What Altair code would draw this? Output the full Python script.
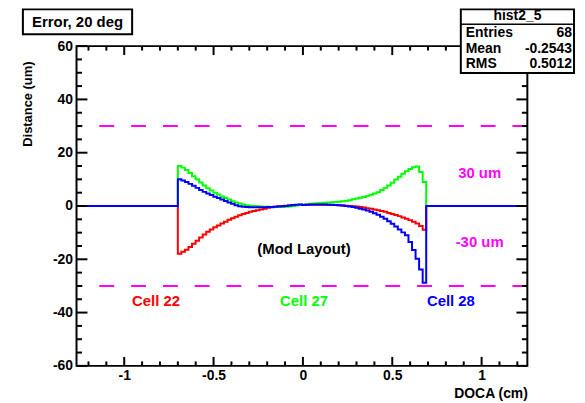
import altair as alt
import pandas as pd

# ---------------- data ----------------
x_min, x_max = -1.267, 1.256
y_min, y_max = -60, 60
hist_lo, hist_hi = -0.70, 0.69

red_vals = [-17.9, -17.2, -16.4, -15.4, -14.2, -13.0, -11.8, -10.7, -9.7, -8.8,
            -8.0, -7.3, -6.6, -5.9, -5.2, -4.6, -4.0, -3.5, -3.0, -2.6,
            -2.2, -1.9, -1.6, -1.3, -1.0, -0.7, -0.5, -0.3, -0.1, 0.0,
            0.1, 0.2, 0.3, 0.4, 0.5,
            0.4, 0.5, 0.5, 0.5, 0.5, 0.5, 0.5, 0.5, 0.4, 0.4,
            0.3, 0.2, 0.1, 0.0, -0.1, -0.2, -0.4, -0.6, -0.8, -1.0,
            -1.3, -1.6, -1.9, -2.2, -2.6, -3.0, -3.4, -3.8, -4.3, -4.8,
            -5.3, -5.9, -6.6, -7.5, -8.9]
green_vals = [15.0, 14.4, 13.5, 12.4, 11.2, 10.0, 8.8, 7.7, 6.7, 5.8,
              5.0, 4.3, 3.6, 3.0, 2.4, 1.8, 1.3, 0.9, 0.6, 0.3,
              0.1, 0.0, -0.1, -0.2, -0.3, -0.3, -0.4, -0.4, -0.4, -0.4,
              -0.3, -0.2, 0.0, 0.2, 0.4,
              0.5, 0.7, 0.8, 0.9, 1.0, 1.1, 1.2, 1.3, 1.4, 1.5,
              1.6, 1.8, 2.0, 2.2, 2.5, 2.8, 3.1, 3.4, 3.8, 4.2,
              4.7, 5.2, 6.0, 6.8, 7.7, 8.7, 9.9, 11.0, 12.1, 13.0,
              13.9, 14.5, 14.8, 12.8, 9.0]
blue_vals = [10.0, 9.6, 9.0, 8.3, 7.6, 6.8, 6.0, 5.3, 4.7, 4.1,
             3.5, 3.0, 2.4, 1.9, 1.3, 0.8, 0.3, -0.1, -0.3, -0.4,
             -0.5, -0.5, -0.5, -0.5, -0.5, -0.4, -0.4, -0.3, -0.2, -0.1,
             0.0, 0.2, 0.4, 0.5, 0.6,
             0.4, 0.5, 0.6, 0.6, 0.6, 0.6, 0.6, 0.5, 0.5, 0.4,
             0.3, 0.2, 0.0, -0.2, -0.4, -0.7, -1.0, -1.3, -1.7, -2.2,
             -2.7, -3.3, -4.0, -4.8, -5.7, -6.7, -7.7, -8.8, -9.9, -11.0,
             -13.5, -16.5, -19.8, -23.8, -28.8]

series_names = ["Cell 22", "Cell 27", "Cell 28"]
series_colors = ["#ff0000", "#00ff00", "#0000ff"]
series_values = [red_vals, green_vals, blue_vals]

limit_lines = [30, -30]

x_major = [-1, -0.5, 0, 0.5, 1]
x_minor = [-1.2, -1.1, -0.9, -0.8, -0.7, -0.6, -0.4, -0.3, -0.2, -0.1,
           0.1, 0.2, 0.3, 0.4, 0.6, 0.7, 0.8, 0.9, 1.1, 1.2]
y_major = [-60, -40, -20, 0, 20, 40, 60]
y_minor = [-55, -50, -45, -35, -30, -25, -15, -10, -5,
           5, 10, 15, 25, 30, 35, 45, 50, 55]

label_text = ["30 um", "-30 um", "(Mod Layout)", "Cell 22", "Cell 27", "Cell 28"]
label_x = [0.989, 0.989, 0.006, -0.822, 0.006, 0.828]
label_y = [12.3, -13.4, -16.0, -35.7, -35.7, -35.7]
label_color = ["#ff00ff", "#ff00ff", "#000000", "#ff0000", "#00ff00", "#0000ff"]

stat_title = "hist2_5"
stat_names = ["Entries", "Mean", "RMS"]
stat_values = ["68", "-0.2543", "0.5012"]
plot_title = "Error, 20 deg"

# ---------------- layout ----------------
W, H = 454, 322
FONT = "Liberation Sans"

rows = []
for name, vals in zip(series_names, series_values):
    w = (hist_hi - hist_lo) / len(vals)
    xs = [x_min] + [hist_lo + i * w for i in range(len(vals))] + [hist_hi, x_max]
    ys = [0.0] + list(vals) + [0.0, 0.0]
    for k, (xv, yv) in enumerate(zip(xs, ys)):
        rows.append({"series": name, "x": xv, "y": yv, "idx": k})
hist_df = pd.DataFrame(rows)

xscale = alt.Scale(domain=[x_min, x_max], nice=False, zero=False)
yscale = alt.Scale(domain=[y_min, y_max], nice=False, zero=False)
xaxis = alt.Axis(title="DOCA (cm)", values=x_major, labelExpr="toString(datum.value)",
                 ticks=False, domain=False, grid=False, labelFont=FONT, labelFontSize=14,
                 labelFontWeight="bold", labelPadding=3, labelColor="black",
                 titleFont=FONT, titleFontSize=14, titleFontWeight="bold", titleColor="black",
                 titleAnchor="end", titleAlign="right", titleX=W, titleY=28,
                 titleBaseline="middle")
yaxis = alt.Axis(title="Distance (um)", values=y_major, labelExpr="toString(datum.value)",
                 ticks=False, domain=False, grid=False, labelFont=FONT, labelFontSize=14,
                 labelFontWeight="bold", labelPadding=4, labelColor="black",
                 titleFont=FONT, titleFontSize=13, titleFontWeight="bold", titleColor="black",
                 titleAnchor="end", titleAlign="right", titleAngle=270, titleX=-49, titleY=15,
                 titleBaseline="middle")


def X(field):
    return alt.X(field, type="quantitative", scale=xscale, axis=xaxis)


def Y(field):
    return alt.Y(field, type="quantitative", scale=yscale, axis=yaxis)


layers = []
for name, color in zip(series_names, series_colors):
    layers.append(
        alt.Chart(hist_df).transform_filter(alt.datum.series == name)
        .mark_line(interpolate="step-after", color=color, strokeWidth=2)
        .encode(x=X("x"), y=Y("y"), order=alt.Order("idx:Q"))
    )

layers.append(
    alt.Chart(pd.DataFrame({"v": limit_lines}))
    .mark_rule(color="#ff00ff", strokeWidth=2, strokeDash=[15, 17])
    .encode(y=Y("v"))
)

one = pd.DataFrame({"a": [0]})
# frame
layers.append(
    alt.Chart(one).mark_rect(fill="transparent", stroke="black", strokeWidth=2)
    .encode(x=alt.value(0), x2=alt.value(W), y=alt.value(0), y2=alt.value(H))
)

# ticks (inside, all four sides)
xmaj = pd.DataFrame({"v": x_major})
xmin_df = pd.DataFrame({"v": x_minor})
ymaj = pd.DataFrame({"v": y_major})
ymin_df = pd.DataFrame({"v": y_minor})
for df, ln in [(xmaj, 9), (xmin_df, 4.5)]:
    layers.append(alt.Chart(df).mark_rule(color="black", strokeWidth=2)
                  .encode(x=X("v"), y=alt.value(H), y2=alt.value(H - ln)))
    layers.append(alt.Chart(df).mark_rule(color="black", strokeWidth=2)
                  .encode(x=X("v"), y=alt.value(0), y2=alt.value(ln)))
for df, ln in [(ymaj, 11), (ymin_df, 5.5)]:
    layers.append(alt.Chart(df).mark_rule(color="black", strokeWidth=2)
                  .encode(y=Y("v"), x=alt.value(0), x2=alt.value(ln)))
    layers.append(alt.Chart(df).mark_rule(color="black", strokeWidth=2)
                  .encode(y=Y("v"), x=alt.value(W), x2=alt.value(W - ln)))

# annotations
lab_df = pd.DataFrame({"t": label_text, "x": label_x, "y": label_y, "c": label_color})
layers.append(
    alt.Chart(lab_df).mark_text(font=FONT, fontSize=15, fontWeight="bold",
                                align="center", baseline="middle")
    .encode(x=X("x"), y=Y("y"), text="t:N", color=alt.Color("c:N", scale=None))
)

# title box
layers.append(
    alt.Chart(one).mark_rect(fill="white", stroke="black", strokeWidth=2)
    .encode(x=alt.value(-54), x2=alt.value(56), y=alt.value(-37), y2=alt.value(-12))
)
layers.append(
    alt.Chart(pd.DataFrame({"t": [plot_title]}))
    .mark_text(font=FONT, fontSize=15, fontWeight="bold", align="center", baseline="middle",
               color="black")
    .encode(x=alt.value(1), y=alt.value(-24), text="t:N")
)

# stats box
layers.append(
    alt.Chart(one).mark_rect(fill="white", stroke="black", strokeWidth=2)
    .encode(x=alt.value(387), x2=alt.value(501), y=alt.value(-37), y2=alt.value(27))
)
layers.append(
    alt.Chart(one).mark_rule(color="black", strokeWidth=1.5)
    .encode(x=alt.value(387), x2=alt.value(501), y=alt.value(-22))
)
layers.append(
    alt.Chart(pd.DataFrame({"t": [stat_title]}))
    .mark_text(font=FONT, fontSize=14, fontWeight="bold", align="center", baseline="middle",
               color="black")
    .encode(x=alt.value(444), y=alt.value(-30), text="t:N")
)
row_y = [-13, 3, 18]
for nm, val, ry in zip(stat_names, stat_values, row_y):
    d = pd.DataFrame({"n": [nm], "v": [val]})
    layers.append(alt.Chart(d).mark_text(font=FONT, fontSize=14, fontWeight="bold",
                                         align="left", baseline="middle", color="black")
                  .encode(x=alt.value(392), y=alt.value(ry), text="n:N"))
    layers.append(alt.Chart(d).mark_text(font=FONT, fontSize=14, fontWeight="bold",
                                         align="right", baseline="middle", color="black")
                  .encode(x=alt.value(499), y=alt.value(ry), text="v:N"))

chart = alt.layer(*layers).properties(
    width=W, height=H,
    autosize=alt.AutoSizeParams(type="none"),
    padding={"left": 69, "top": 37, "right": 50, "bottom": 36},
    background="white",
).configure_view(strokeWidth=0)

chart.save("out.html", embed_options={"renderer": "svg", "actions": False})
